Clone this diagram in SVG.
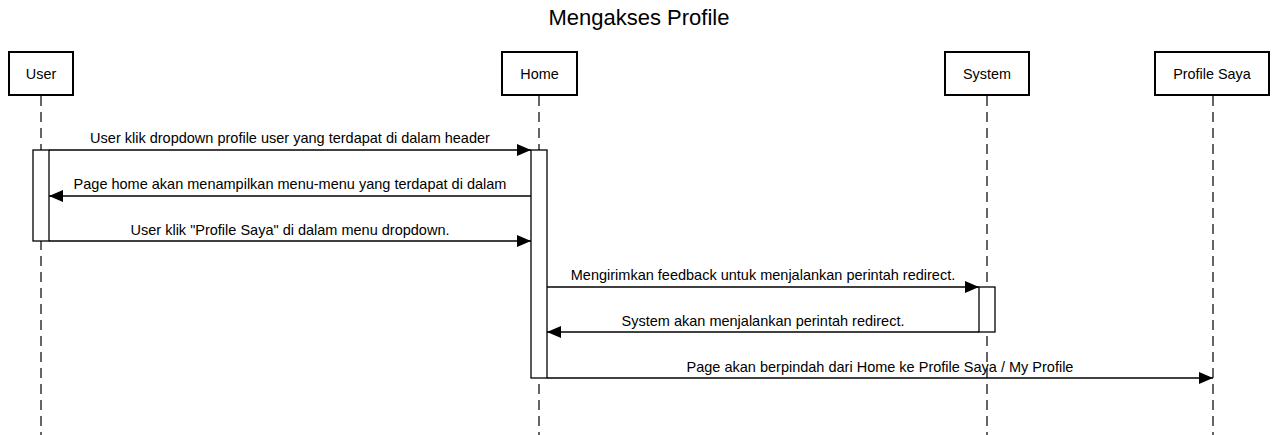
<svg xmlns="http://www.w3.org/2000/svg" width="1278" height="435" viewBox="0 0 1278 435">
<style>
text{font-family:"Liberation Sans",Arial,sans-serif;fill:#000}
.title{font-size:22px}
.box{fill:#fff;stroke:#000;stroke-width:2}
.lbl{font-size:14.4px}
.life{stroke:#000;stroke-width:1.2;stroke-dasharray:10 6;fill:none}
.act{fill:#fff;stroke:#000;stroke-width:1.3}
.msg{stroke:#000;stroke-width:1.3;fill:none;marker-end:url(#arr)}
.mt{font-size:14.5px}
</style>
<defs>
<marker id="arr" viewBox="0 0 14 12" refX="14" refY="6" markerWidth="14" markerHeight="12" markerUnits="userSpaceOnUse" orient="auto">
<path d="M0,0 L14,6 L0,12 Z" fill="#000"/>
</marker>
</defs>
<rect width="1278" height="435" fill="#fff"/>
<text class="title" x="639" y="25" text-anchor="middle">Mengakses Profile</text>

<g id="user">
<line class="life" x1="41" y1="96" x2="41" y2="435"/>
<rect class="box" x="9" y="52" width="64" height="43"/>
<text class="lbl" x="41" y="79" text-anchor="middle">User</text>
<rect class="act" x="33" y="150" width="16" height="91"/>
</g>
<g id="home">
<line class="life" x1="539" y1="96" x2="539" y2="435"/>
<rect class="box" x="502" y="52" width="75" height="43"/>
<text class="lbl" x="539.5" y="79" text-anchor="middle">Home</text>
<rect class="act" x="531" y="150" width="16" height="228"/>
</g>
<g id="system">
<line class="life" x1="987" y1="96" x2="987" y2="435"/>
<rect class="box" x="945" y="52" width="84" height="43"/>
<text class="lbl" x="987" y="79" text-anchor="middle">System</text>
<rect class="act" x="979" y="287" width="16" height="45"/>
</g>
<g id="profile-saya">
<line class="life" x1="1213" y1="96" x2="1213" y2="435"/>
<rect class="box" x="1155" y="52" width="114" height="43"/>
<text class="lbl" x="1212" y="79" text-anchor="middle">Profile Saya</text>
</g>

<g id="connectors">
<line class="msg" x1="49" y1="150" x2="531" y2="150"/>
<text class="mt" x="290" y="143" text-anchor="middle">User klik dropdown profile user yang terdapat di dalam header</text>
<line class="msg" x1="531" y1="196" x2="49" y2="196"/>
<text class="mt" x="290" y="189" text-anchor="middle">Page home akan menampilkan menu-menu yang terdapat di dalam</text>
<line class="msg" x1="49" y1="241" x2="531" y2="241"/>
<text class="mt" x="290" y="235" text-anchor="middle">User klik "Profile Saya" di dalam menu dropdown.</text>
<line class="msg" x1="547" y1="287" x2="979" y2="287"/>
<text class="mt" x="763" y="280" text-anchor="middle">Mengirimkan feedback untuk menjalankan perintah redirect.</text>
<line class="msg" x1="979" y1="332" x2="547" y2="332"/>
<text class="mt" x="763" y="326" text-anchor="middle">System akan menjalankan perintah redirect.</text>
<line class="msg" x1="547" y1="378" x2="1213" y2="378"/>
<text class="mt" x="880" y="372" text-anchor="middle">Page akan berpindah dari Home ke Profile Saya / My Profile</text>
</g>
</svg>
